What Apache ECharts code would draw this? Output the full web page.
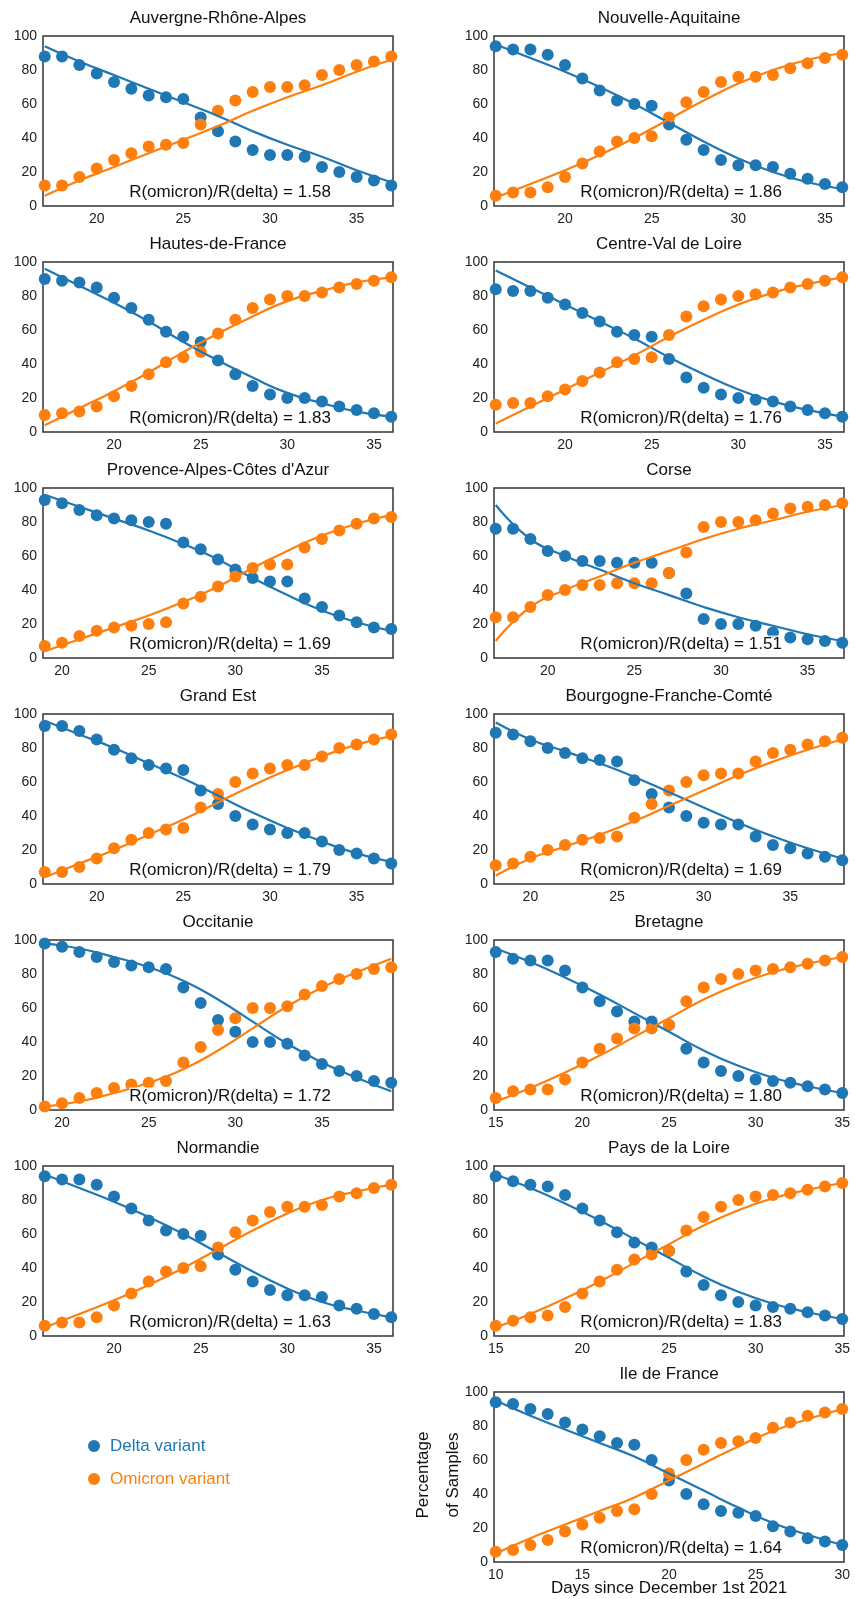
<!DOCTYPE html>
<html>
<head>
<meta charset="UTF-8">
<script src="https://cdn.jsdelivr.net/npm/echarts@6/dist/echarts.min.js"></script>
<style>body{margin:0;background:#fff}</style>
</head>
<body>
<div id="main" style="width:855px;height:1599px;"></div>
<script>
// regions in panel order (left/right, top to bottom)
var regions = ['Auvergne-Rhône-Alpes', 'Nouvelle-Aquitaine', 'Hautes-de-France', 'Centre-Val de Loire',
  "Provence-Alpes-Côtes d'Azur", 'Corse', 'Grand Est', 'Bourgogne-Franche-Comté',
  'Occitanie', 'Bretagne', 'Normandie', 'Pays de la Loire', 'Ile de France'];
var firstDay = [17, 16, 16, 16, 19, 17, 17, 18, 19, 15, 16, 15, 10];
var ratios = ['1.58', '1.86', '1.83', '1.76', '1.69', '1.51', '1.79', '1.69', '1.72', '1.80', '1.63', '1.83', '1.64'];
var xTicks = [[20,25,30,35],[20,25,30,35],[20,25,30,35],[20,25,30,35],[20,25,30,35],[20,25,30,35],
  [20,25,30,35],[20,25,30,35],[20,25,30,35],[15,20,25,30,35],[20,25,30,35],[15,20,25,30,35],[10,15,20,25,30]];

// omicron share of samples, one value per day (delta is the remainder)
var omicronDots = [
  [12,12,17,22,27,31,35,36,37,48,56,62,67,70,70,71,77,80,83,85,88],
  [6,8,8,11,17,25,32,38,40,41,52,61,67,73,76,76,77,81,84,87,89],
  [10,11,12,15,21,27,34,41,44,47,58,66,73,78,80,80,82,85,87,89,91],
  [16,17,17,21,25,30,35,41,43,44,57,68,74,78,80,81,82,85,87,89,91],
  [7,9,13,16,18,19,20,21,32,36,42,48,53,55,55,65,70,75,79,82,83],
  [24,24,30,37,40,43,43,44,44,44,50,62,77,80,80,81,85,88,89,90,91],
  [7,7,10,15,21,26,30,32,33,45,53,60,65,68,70,70,75,80,82,85,88],
  [11,12,16,20,23,26,27,28,39,47,55,60,64,65,65,72,77,79,82,84,86],
  [2,4,7,10,13,15,16,17,28,37,47,54,60,60,61,68,73,77,80,83,84],
  [7,11,12,12,18,28,36,42,48,48,50,64,72,77,80,82,83,84,86,88,90],
  [6,8,8,11,18,25,32,38,40,41,52,61,68,73,76,76,77,82,84,87,89],
  [6,9,11,12,17,25,32,39,45,48,50,62,70,76,80,82,83,84,86,88,90],
  [6,7,10,13,18,22,26,30,31,40,52,60,66,70,71,73,79,82,86,88,90]
];
// fitted omicron curve, every second day from the first day
var omicronFit = [
  [6,15,23,31,39,47,56,64,71,79,86],
  [5,13,21,30,40,51,62,72,80,86,90],
  [4,14,24,35,47,58,68,77,83,88,91],
  [5,15,25,35,45,56,66,75,82,87,91],
  [4,11,18,25,33,42,53,63,72,79,84],
  [10,30,40,48,56,63,70,76,81,86,90],
  [4,12,20,29,38,48,58,67,75,82,87],
  [5,15,22,29,37,46,55,64,72,79,85],
  [2,5,10,16,24,35,48,61,72,81,89],
  [5,13,22,32,43,54,65,74,81,86,90],
  [5,13,21,30,40,51,62,72,80,85,89],
  [5,13,22,32,43,54,65,74,81,86,90],
  [5,14,22,30,38,48,58,68,77,84,90]
];

var BLUE = '#1f77b4', ORANGE = '#ff7f0e';
var FONT = '17px "Liberation Sans", Arial';
var grids = [], xAxes = [], yAxes = [], series = [], graphics = [];

regions.forEach(function (name, i) {
  var col = i === 12 ? 1 : i % 2;
  var row = i === 12 ? 6 : Math.floor(i / 2);
  var left = col === 0 ? 43 : 494, width = 350, top = 36 + row * 226, h = 170;
  var d0 = firstDay[i];
  grids.push({left: left, top: top, width: width, height: h, show: true, borderColor: '#333', borderWidth: 1.5});
  xAxes.push({gridIndex: i, type: 'value', min: d0 - 0.1, max: d0 + 20.1,
    axisLine: {show: false}, axisTick: {show: false}, splitLine: {show: false},
    axisLabel: {customValues: xTicks[i], color: '#222', fontSize: 14, margin: 6}});
  yAxes.push({gridIndex: i, type: 'value', min: 0, max: 100, interval: 20,
    axisLine: {show: false}, axisTick: {show: false}, splitLine: {show: false},
    axisLabel: {color: '#222', fontSize: 14, margin: 6}});
  var om = omicronDots[i].map(function (v, k) { return [d0 + k, v]; });
  var de = omicronDots[i].map(function (v, k) { return [d0 + k, 100 - v]; });
  var fo = omicronFit[i].map(function (v, k) { return [d0 + 2 * k, v]; });
  var fd = omicronFit[i].map(function (v, k) { return [d0 + 2 * k, 100 - v]; });
  var base = {xAxisIndex: i, yAxisIndex: i, silent: true, animation: false};
  series.push(Object.assign({type: 'scatter', data: de, symbolSize: 12, itemStyle: {color: BLUE, opacity: 1}}, base));
  series.push(Object.assign({type: 'scatter', data: om, symbolSize: 12, itemStyle: {color: ORANGE, opacity: 1}}, base));
  series.push(Object.assign({type: 'line', data: fd, smooth: true, showSymbol: false, z: 3, lineStyle: {color: BLUE, width: 2.2}}, base));
  series.push(Object.assign({type: 'line', data: fo, smooth: true, showSymbol: false, z: 3, lineStyle: {color: ORANGE, width: 2.2}}, base));
  graphics.push({type: 'text', x: left + width / 2, y: top - 18,
    style: {text: name, font: FONT, fill: '#111', textAlign: 'center', textVerticalAlign: 'middle'}});
  graphics.push({type: 'text', x: left + width / 2 + 12, y: top + h - 14, z: 10,
    style: {text: 'R(omicron)/R(delta) = ' + ratios[i], font: FONT, fill: '#111',
      textAlign: 'center', textVerticalAlign: 'middle', backgroundColor: 'rgba(255,255,255,0.8)'}});
});

// legend and axis titles
graphics.push({type: 'circle', shape: {cx: 94, cy: 1446, r: 6}, style: {fill: BLUE}});
graphics.push({type: 'text', x: 110, y: 1446, style: {text: 'Delta variant', font: FONT, fill: BLUE, textVerticalAlign: 'middle'}});
graphics.push({type: 'circle', shape: {cx: 94, cy: 1479, r: 6}, style: {fill: ORANGE}});
graphics.push({type: 'text', x: 110, y: 1479, style: {text: 'Omicron variant', font: FONT, fill: ORANGE, textVerticalAlign: 'middle'}});
graphics.push({type: 'text', x: 438, y: 1475, rotation: Math.PI / 2,
  style: {text: 'Percentage\nof Samples', font: FONT, fill: '#111', textAlign: 'center', textVerticalAlign: 'middle', lineHeight: 30}});
graphics.push({type: 'text', x: 669, y: 1588,
  style: {text: 'Days since December 1st 2021', font: FONT, fill: '#111', textAlign: 'center', textVerticalAlign: 'middle'}});

var myChart = echarts.init(document.getElementById('main'));
myChart.setOption({animation: false, grid: grids, xAxis: xAxes, yAxis: yAxes, series: series, graphic: graphics});
</script>
</body>
</html>
